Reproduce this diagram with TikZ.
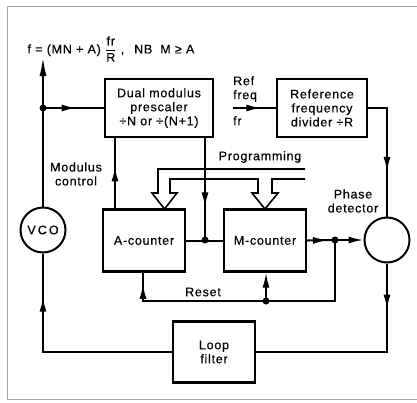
\documentclass[tikz,border=0pt]{standalone}
\usepackage{fontspec}
\setmainfont{Liberation Sans}[LetterSpace=6,FakeBold=0.4]
\usetikzlibrary{arrows.meta,decorations.markings}
\tikzset{
  blk/.style={draw,line width=2.1pt,minimum width=82pt,minimum height=62pt,align=center,inner sep=2pt},
  ring/.style={draw,circle,line width=2pt,minimum size=45pt,inner sep=0pt},
  wire/.style={line width=2pt,line join=miter},
  tip/.style={-{Latex[length=15pt,width=7pt]}},
  midarrow/.style={postaction={decorate},decoration={markings,mark=at position #1 with {\arrow{Latex[length=15pt,width=7pt]}}}},
  midarrow/.default=0.5
}
\begin{document}
\begin{tikzpicture}[x=1pt,y=-1pt,font=\fontsize{12.5}{14}\selectfont]
  \useasboundingbox (0,0) rectangle (417,402);
  \draw[gray!70,line width=0.8pt] (417,6) -- (7,6) -- (7,399) -- (417,399);
  \coordinate (top) at (43,57);
  \coordinate (split) at (43,108);
  \coordinate (mc) at (115,209);
  \coordinate (clk) at (205,240);
  \coordinate (out) at (335,240);
  \coordinate (rr) at (335,301);
  \coordinate (ra) at (143,301);
  \coordinate (rm) at (266,301);
  \coordinate (fr) at (233,108);
  \coordinate (rc) at (387,108);
  \coordinate (lc) at (387,352);
  \coordinate (vc) at (43,352);
  \node[blk,minimum width=108pt,minimum height=58pt] (pre) at (159,108) {Dual modulus\\prescaler\\÷N or ÷(N+1)};
  \node[blk,minimum width=90pt,minimum height=58pt] (ref) at (322,108) {Reference\\frequency\\divider ÷R};
  \node[blk] (acnt) at (144,240.5) {A-counter};
  \node[blk] (mcnt) at (265,240.5) {M-counter};
  \node[blk,minimum height=61pt] (loop) at (214,352) {Loop\\filter};
  \node[ring] (vco) at (43,230) {V\,C\,O};
  \node[ring] (pd) at (387,240) {};
  \node[anchor=west] (eqn) at (24,49) {f = (MN + A) $\displaystyle\frac{\mbox{fr}}{\mbox{R}}$ ,\hspace{10pt}NB\hspace{8pt}M ≥ A};
  \node[align=left,anchor=south west,inner sep=1pt] (reflab) at (232,103) {Ref\\freq};
  \node[anchor=north west,inner sep=1pt] (frlab) at (232,115) {fr};
  \node[align=center] (modlab) at (76,174) {Modulus\\control};
  \node (proglab) at (260,157) {Programming};
  \node[align=center] (pdlab) at (353,201) {Phase\\detector};
  \node (rstlab) at (203,292) {Reset};
  % programming bus
  \draw[wire,line width=1.6pt] (305,169) -- (158,169) -- (158,193) -- (152,193) -- (164.5,209)
    -- (177,193) -- (170,193) -- (170,179) -- (258,179) -- (258,193) -- (252,193) -- (265,209)
    -- (278,193) -- (272,193) -- (272,179) -- (305,179);
  \draw[wire,-{Latex[length=19pt,width=7pt]}] (vco.north) -- (top);
  \draw[wire,midarrow=0.55] (split) -- (pre.west);
  \fill (split) circle (3.5pt);
  \draw[wire,midarrow=0.6] (mc) -- (mc |- pre.south);
  \draw[wire,midarrow=0.68] (clk |- pre.south) -- (clk);
  \draw[wire] (acnt.east) -- (mcnt.west);
  \fill (clk) circle (3.5pt);
  \draw[wire,midarrow=0.75] (mcnt.east) -- (out);
  \draw[wire,tip] (out) -- (pd.west);
  \fill (out) circle (3.5pt);
  \draw[wire,midarrow=0.96] (out) -- (rr) -- (ra) -- (ra |- acnt.south);
  \draw[wire,tip] (rm) -- (rm |- mcnt.south);
  \fill (rm) circle (3.5pt);
  \draw[wire,midarrow=0.66] (fr) -- (ref.west);
  \draw[wire,midarrow=0.65] (ref.east) -- (rc) -- (pd.north);
  \draw[wire,midarrow=0.21] (pd.south) -- (lc) -- (loop.east);
  \draw[wire,midarrow=0.81] (loop.west) -- (vc) -- (vco.south);
\end{tikzpicture}
\end{document}
